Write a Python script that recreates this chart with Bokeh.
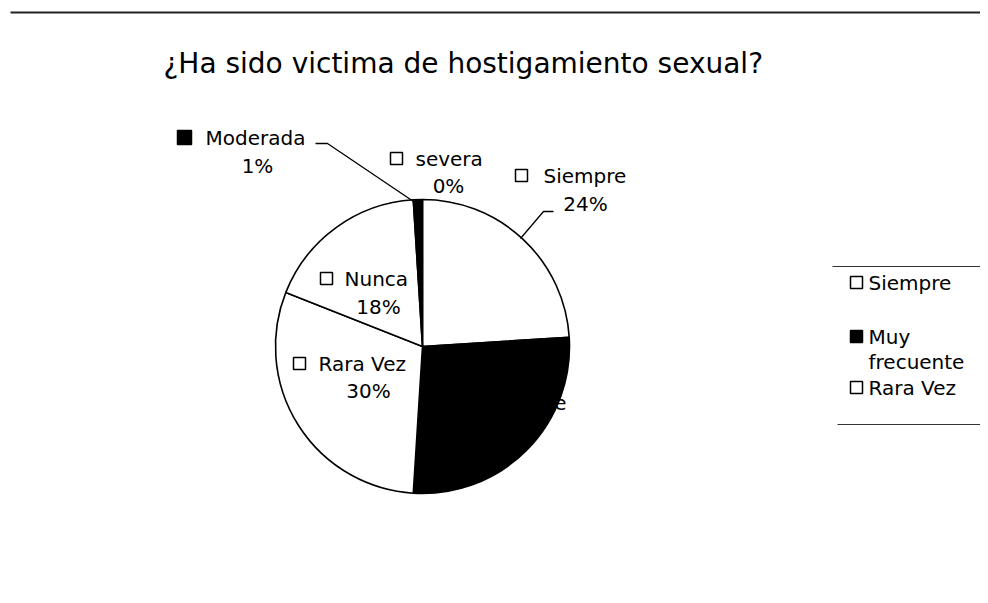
import math
from bokeh.plotting import figure
from bokeh.models import Range1d, ColumnDataSource
from bokeh.core.properties import value
from bokeh.embed import file_html
from bokeh.resources import INLINE

# ---- data ----
categories = ["Siempre", "Muy frecuente", "Rara Vez", "Nunca", "Moderada", "severa"]
percent = [24, 27, 30, 18, 1, 0]
slice_colors = ["white", "black", "white", "white", "black", "white"]
legend_labels = ["Siempre", "Muy\nfrecuente", "Rara Vez"]
legend_colors = ["white", "black", "white"]
title_text = "¿Ha sido victima de hostigamiento sexual?"

# ---- layout (screen-pixel coordinates of the page) ----
W, H = 980, 595
FONT = "DejaVu Sans"
cx, cy, R = 422, 346, 147

p = figure(width=W, height=H, x_range=Range1d(0, W), y_range=Range1d(-H, 0),
           output_backend="svg", toolbar_location=None, min_border=0,
           x_axis_location=None, y_axis_location=None)
p.grid.visible = False
p.outline_line_color = None
p.background_fill_color = "white"
p.border_fill_color = "white"

# top rule line of the scanned page
p.line(x=[10, 988], y=[-12, -12], line_color="#222222", line_width=2.2)

# title
p.text(x=[163], y=[-63], text=[title_text], text_font=value(FONT), text_font_size="28px",
       text_baseline="middle", text_align="left", text_color="black")

# pie
total = float(sum(percent))
starts, ends, xs, ys, cols = [], [], [], [], []
cum = 0.0
for v, c in zip(percent, slice_colors):
    a0 = math.pi / 2 - 2 * math.pi * cum / total
    cum += v
    a1 = math.pi / 2 - 2 * math.pi * cum / total
    if v > 0:
        starts.append(a1); ends.append(a0); cols.append(c)
        xs.append(cx); ys.append(-cy)
pie = ColumnDataSource(dict(x=xs, y=ys, start=starts, end=ends, color=cols))
p.wedge(x="x", y="y", radius=R, start_angle="start", end_angle="end", direction="anticlock",
        fill_color="color", line_color="black", line_width=1.6, source=pie)

# leader lines
p.line(x=[315, 327, 413], y=[-143, -143, -201], line_color="black", line_width=1.3)
p.line(x=[553, 543, 520], y=[-211, -211, -238], line_color="black", line_width=1.3)

# data labels: (square x, square size, name x, y of name, pct center x, pct y)
label_layout = {
    "Siempre": (521, 12, 543, -175, 585, -203),
    "Muy frecuente": (None, 0, 566, -402, 505, -427),
    "Rara Vez": (299, 12, 318, -363, 368, -390),
    "Nunca": (326, 12, 344, -278, 378, -306),
    "Moderada": (184, 14, 205, -137, 257, -165),
    "severa": (396, 12, 415, -158, 448, -185),
}
sq_x, sq_y, sq_c, sq_s = [], [], [], []
nm_x, nm_y, nm_t, nm_a = [], [], [], []
pc_x, pc_y, pc_t = [], [], []
for name, v, c in zip(categories, percent, slice_colors):
    sx, ss, nx, ny, px, py = label_layout[name]
    if sx is not None:
        sq_x.append(sx); sq_y.append(ny); sq_c.append(c); sq_s.append(ss)
        nm_a.append("left")
    else:
        nm_a.append("right")
    nm_x.append(nx); nm_y.append(ny); nm_t.append(name)
    pc_x.append(px); pc_y.append(py); pc_t.append(f"{v}%")

p.scatter(x="x", y="y", size="s", fill_color="c", marker="square", line_color="black", line_width=1.5,
          source=ColumnDataSource(dict(x=sq_x, y=sq_y, s=sq_s, c=sq_c)))
p.text(x="x", y="y", text="t", text_align="a", source=ColumnDataSource(dict(x=nm_x, y=nm_y, t=nm_t, a=nm_a)),
       text_font=value(FONT), text_font_size="20px", text_baseline="middle", text_color="black")
p.text(x=pc_x, y=pc_y, text=pc_t, text_font=value(FONT), text_font_size="20px",
       text_baseline="middle", text_align="center", text_color="black")

# legend (partially cut off at right edge in the reference)
p.line(x=[832, 988], y=[-266, -266], line_color="#333333", line_width=1.2)
p.line(x=[837, 988], y=[-424, -424], line_color="#333333", line_width=1.2)
leg_y = [-282, -336, -387]
p.scatter(x=[856] * len(legend_labels), y=leg_y, marker="square", size=12,
          fill_color=legend_colors, line_color="black", line_width=1.5)
p.text(x=[868] * len(legend_labels), y=[yy + 12 for yy in leg_y], text=legend_labels,
       text_font=value(FONT), text_font_size="20px", text_baseline="top", text_align="left",
       text_color="black", text_line_height=1.07)

open("out.html", "w").write(file_html(p, INLINE))
